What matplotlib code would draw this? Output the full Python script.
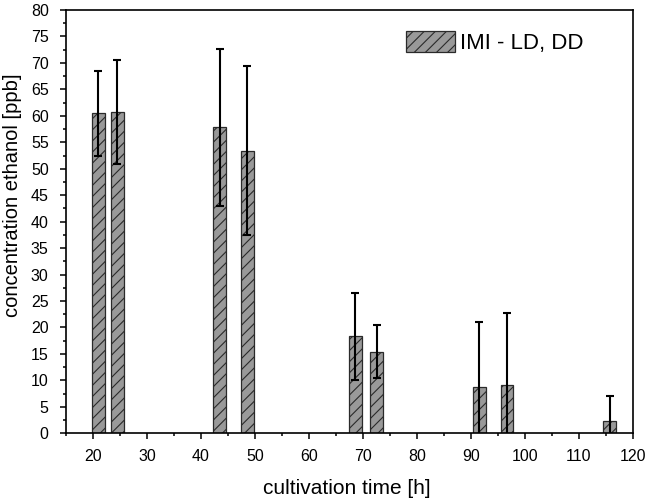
import numpy as np
import matplotlib
matplotlib.use('Agg')
import matplotlib.pyplot as plt
from matplotlib.ticker import MultipleLocator
from matplotlib import rcParams
rcParams.update({'font.family': 'Liberation Sans', 'hatch.linewidth': 0.8})

# cultivation time [h] and ethanol concentration [ppb]
time_h = [21.0, 24.5, 43.5, 48.6, 68.6, 72.6, 91.6, 96.7, 115.7]
ethanol = [60.5, 60.7, 57.8, 53.4, 18.3, 15.4, 8.8, 9.1, 2.4]
ethanol_err = [8.0, 9.8, 14.8, 16.0, 8.3, 5.0, 12.2, 13.6, 4.7]
series_label = 'IMI - LD, DD'

fig = plt.figure(figsize=(6.49, 5.01), dpi=100)
ax = fig.add_axes([0.1017, 0.1351, 0.8733, 0.8449])

ax.bar(time_h, ethanol, width=2.4, color='#999999', edgecolor='#2a2a2a',
       linewidth=0.9, hatch='///', label=series_label, zorder=2)
ax.errorbar(time_h, ethanol, yerr=ethanol_err, fmt='none', ecolor='black',
            elinewidth=1.5, capsize=2.6, capthick=1.5, zorder=3)

ax.set_xlim(15, 120)
ax.set_ylim(0, 80)
ax.xaxis.set_major_locator(MultipleLocator(10))
ax.xaxis.set_minor_locator(MultipleLocator(5))
ax.yaxis.set_major_locator(MultipleLocator(5))
ax.yaxis.set_minor_locator(MultipleLocator(2.5))
ax.tick_params(which='major', direction='out', length=4, width=1.1, labelsize=11.5)
ax.tick_params(which='minor', direction='out', length=2.5, width=1.1)
ax.tick_params(axis='x', which='major', pad=7.5)
ax.tick_params(axis='y', which='major', pad=8.5)
for s in ax.spines.values():
    s.set_linewidth(1.2)

ax.set_xlabel('cultivation time [h]', fontsize=15)
ax.set_ylabel('concentration ethanol [ppb]', fontsize=14.5)
ax.xaxis.set_label_coords(0.496, -0.107)
ax.yaxis.set_label_coords(-0.0776, 0.563)

ax.legend(loc='upper left', bbox_to_anchor=(0.600, 0.950), frameon=False,
          fontsize=16, handlelength=2.2, handleheight=1.08, handletextpad=0.23,
          borderpad=0, borderaxespad=0)

plt.savefig('out.png', dpi=100)
